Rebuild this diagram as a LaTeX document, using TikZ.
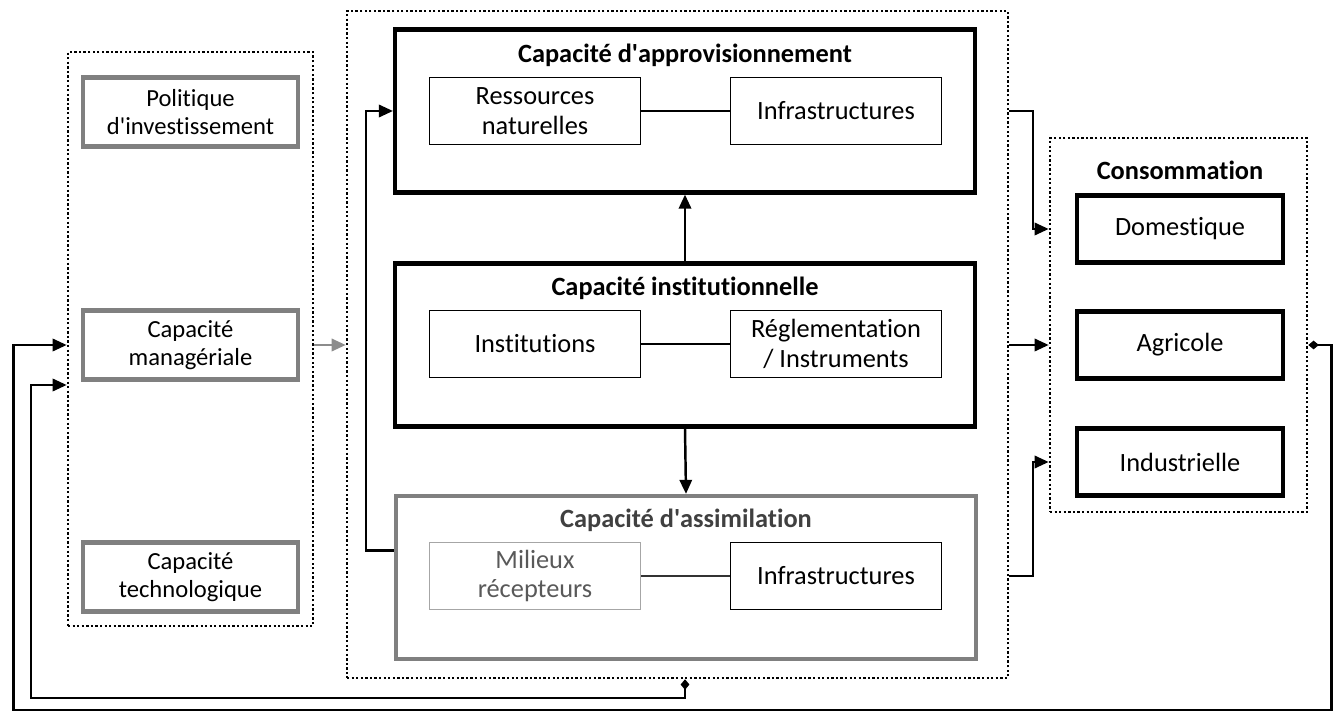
\documentclass[tikz,border=0pt]{standalone}
\usepackage{fontspec}
\setmainfont{Carlito}[Ligatures={NoCommon}]
\usetikzlibrary{arrows.meta,positioning,calc}

\begin{document}
\begin{tikzpicture}[x=0.02cm, y=-0.02cm,
  zone/.style={draw, line width=1.5pt, dash pattern=on 1.3pt off 1.3pt, inner sep=0pt},
  bloc/.style={draw, line width=2.4pt, inner sep=0pt, minimum width=11.6cm, minimum height=3.26cm},
  sousbloc/.style={draw, line width=0.9pt, align=center, minimum width=4.22cm, minimum height=1.34cm, font=\fontsize{15}{17}\selectfont},
  levier/.style={draw=black!50, line width=2.4pt, align=center, minimum width=4.3cm, minimum height=1.38cm, font=\fontsize{14}{16}\selectfont},
  usage/.style={draw, line width=2.4pt, minimum width=4.12cm, minimum height=1.34cm, font=\fontsize{15}{17}\selectfont},
  titre/.style={font=\bfseries\fontsize{15}{17}\selectfont},
  fleche/.style={-{Triangle[length=8pt,width=7pt]}, line width=1.4pt},
  retour/.style={fleche, {Diamond[length=6pt,width=5pt]}-{Triangle[length=8pt,width=7pt]}},
  lien/.style={line width=1.1pt}]
\useasboundingbox (0,0) rectangle (1335,715);
% Dotted frames
\node[zone, minimum width=4.9cm, minimum height=11.48cm] (leviers) at (190.5,339) {};
\node[zone, minimum width=13.22cm, minimum height=13.34cm] (offre) at (677.5,344.5) {};
\node[zone, minimum width=5.14cm, minimum height=7.48cm] (conso) at (1178.5,325) {};
% Levers on the left
\node[levier] (politique) at (190.5,112) {Politique\\d\textquotesingle investissement};
\node[levier] (manag) at (190.5,345) {Capacité\\managériale};
\node[levier] (techno) at (190.5,577) {Capacité\\technologique};
% Supply capacity
\node[bloc] (appro) at (685,111) {};
\node[titre] (appro-t) at (685,55) {Capacité d\textquotesingle approvisionnement};
\node[sousbloc] (ressources) at (535,111) {Ressources\\naturelles};
\node[sousbloc] (infra1) at (836,111) {Infrastructures};
\draw[lien] (ressources) -- (infra1);
% Institutional capacity
\node[bloc] (inst) at (685,345) {};
\node[titre] (inst-t) at (685,288) {Capacité institutionnelle};
\node[sousbloc] (institutions) at (535,344) {Institutions};
\node[sousbloc] (regl) at (836,344) {Réglementation\\/ Instruments};
\draw[lien] (institutions) -- (regl);
% Assimilation capacity
\node[bloc, draw=black!50] (assim) at (686,577.5) {};
\node[titre, text=black!75] (assim-t) at (686,520) {Capacité d\textquotesingle assimilation};
\node[sousbloc, draw=black!35, text=black!65] (milieux) at (535,576) {Milieux\\récepteurs};
\node[sousbloc] (infra2) at (836,576) {Infrastructures};
\draw[lien, black!80] (milieux) -- (infra2);
% Consumption
\node[titre] (conso-t) at (1180,170) {Consommation};
\node[usage] (domestique) at (1180,229) {Domestique};
\node[usage] (agricole) at (1180,345) {Agricole};
\node[usage] (industrielle) at (1180,462) {Industrielle};
% Links between capacities
\draw[fleche] (inst.north) -- (appro.south);
\draw[fleche] (inst.south) -- (assim.north);
\draw[fleche] ($(assim.west)+(0,-27)$) -- ++(-28,0) |- (appro.west);
\draw[fleche, black!45] (leviers.east |- manag) -- (offre.west |- manag);
% Towards consumption
\draw[fleche] (offre.east |- appro) -- ++(24,0) |- (conso.west |- domestique);
\draw[fleche] (offre.east |- agricole) -- (conso.west |- agricole);
\draw[fleche] (offre.east |- infra2) -- ++(24,0) |- (conso.west |- industrielle);
% Feedback loops
\draw[retour] (conso.east |- agricole) -- ++(23,0) |- ++(-1318,365) |- (leviers.west |- manag);
\draw[retour] (offre.south -| inst) |- ++(-654,19) |- ($(leviers.west)+(0,46)$);
\end{tikzpicture}
\end{document}
